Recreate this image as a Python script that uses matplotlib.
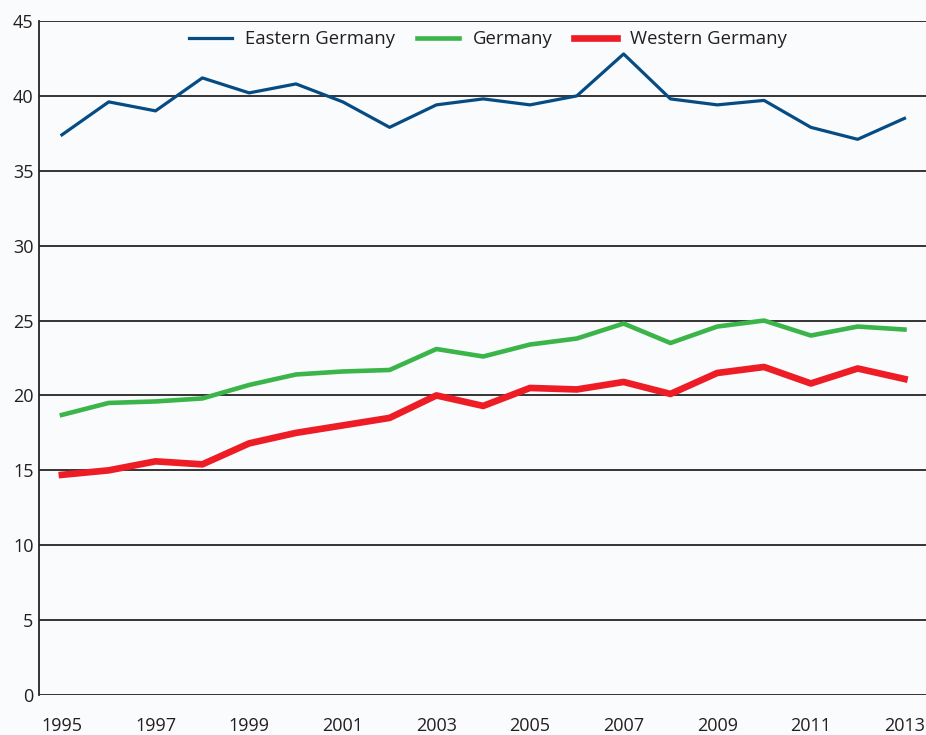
import numpy as np
import matplotlib.pyplot as plt

plt.rcParams['font.family'] = ['Open Sans', 'DejaVu Sans']

years = list(range(1995, 2014))
eastern = [37.4, 39.6, 39.0, 41.2, 40.2, 40.8, 39.6, 37.9, 39.4, 39.8,
           39.4, 40.0, 42.8, 39.8, 39.4, 39.7, 37.9, 37.1, 38.5]
germany = [18.7, 19.5, 19.6, 19.8, 20.7, 21.4, 21.6, 21.7, 23.1, 22.6,
           23.4, 23.8, 24.8, 23.5, 24.6, 25.0, 24.0, 24.6, 24.4]
western = [14.7, 15.0, 15.6, 15.4, 16.8, 17.5, 18.0, 18.5, 20.0, 19.3,
           20.5, 20.4, 20.9, 20.1, 21.5, 21.9, 20.8, 21.8, 21.1]
xticks = list(range(1995, 2014, 2))
yticks = list(range(0, 50, 5))

bg = '#f9fbfd'
fig = plt.figure(figsize=(9.26, 7.35), dpi=100, facecolor=bg)
ax = fig.add_axes([39/926, 1-695/735, 1-39/926, (695-21)/735])
ax.set_facecolor(bg)

for y in yticks:
    ax.axhline(y, color='#262324', lw=1.3, zorder=1)

ax.plot(years, eastern, color='#064b82', lw=2.3, label='Eastern Germany', zorder=3)
ax.plot(years, germany, color='#3bb54a', lw=3.3, label='Germany', zorder=3)
ax.plot(years, western, color='#ee1c25', lw=4.8, label='Western Germany', zorder=3)

ax.set_xlim(1994.51, 2013.46)
ax.set_ylim(0, 45)
ax.set_xticks(xticks)
ax.set_xticklabels([str(x) for x in xticks])
ax.set_yticks(yticks)
ax.tick_params(length=0, labelsize=13, colors='#231f20', pad=4)
ax.tick_params(axis='x', pad=16)
for s in ['top', 'right', 'bottom']:
    ax.spines[s].set_visible(False)
ax.spines['left'].set_color('#262324')
ax.spines['left'].set_linewidth(1.3)

leg = ax.legend(ncol=3, frameon=False, loc='center',
                bbox_to_anchor=(488/926, 1-39/735), bbox_transform=fig.transFigure,
                fontsize=13.3, handlelength=2.3, handletextpad=0.7,
                columnspacing=1.2)
for t in leg.get_texts():
    t.set_color('#231f20')

fig.savefig('out.png', dpi=100, facecolor=bg)
